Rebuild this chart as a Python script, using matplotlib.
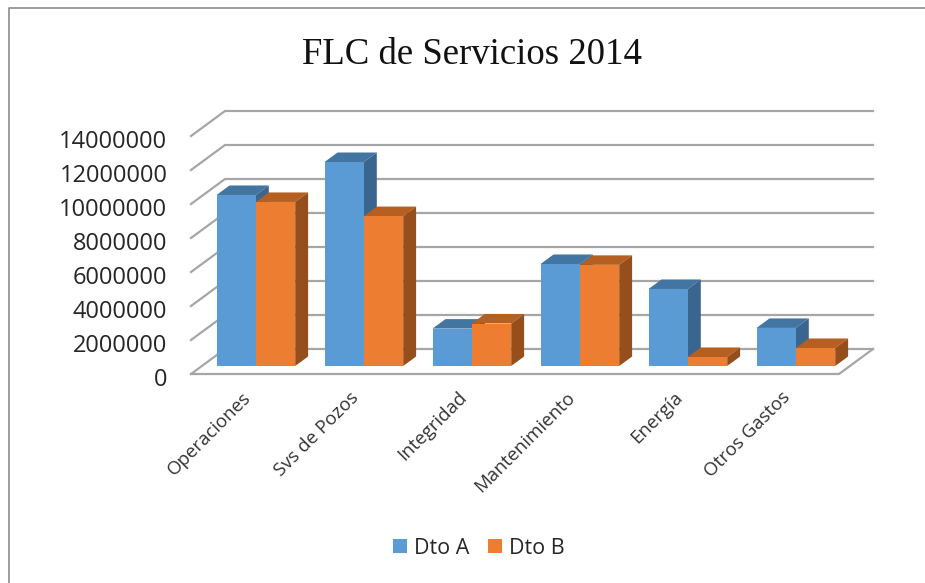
import matplotlib
matplotlib.use("Agg")
import matplotlib.pyplot as plt
from matplotlib.lines import Line2D
from matplotlib.patches import Patch, Polygon
from matplotlib.transforms import ScaledTranslation

categories = ["Operaciones", "Svs de Pozos", "Integridad", "Mantenimiento", "Energía", "Otros Gastos"]
dto_a = [10060000, 12000000, 2200000, 6000000, 4530000, 2240000]
dto_b = [9650000, 8820000, 2500000, 5950000, 530000, 1060000]
y_ticks = list(range(0, 14000001, 2000000))

W, H = 925, 583
# plano frontal del grafico, en pixeles
LEFT, RIGHT, BOTTOM, TOP = 191, 839, 374, 136

# profundidad del piso en unidades de datos (34 px a la derecha, 25 px arriba)
DX = 34 / 108
DY = 25 / 34 * 2000000
BAR_W = 0.364
BAR_Z0 = 0.32   # donde empieza la barra dentro del piso
BAR_DZ = 0.38   # profundidad de la barra

BLUE = ("#5b9bd5", "#4375a3", "#3a658f")
ORANGE = ("#ed7d31", "#b55f21", "#964f1b")
GRID = "#a6a6a6"

fig = plt.figure(figsize=(W / 100, H / 100), dpi=100)
ax = fig.add_axes([LEFT / W, 1 - BOTTOM / H, (RIGHT - LEFT) / W, (BOTTOM - TOP) / H])
ax.set_xlim(-0.5, 5.5)
ax.set_ylim(0, 14000000)
ax.patch.set_visible(False)
for s in ax.spines.values():
    s.set_visible(False)

# paredes
for v in y_ticks:
    ax.plot([-0.5, -0.5 + DX, 5.5 + DX], [v, v + DY, v + DY], color=GRID, lw=1.6,
            clip_on=False, zorder=1, solid_joinstyle="miter")
ax.plot([-0.5, 5.5, 5.5 + DX], [0, 0, DY], color=GRID, lw=1.6, clip_on=False, zorder=1)


def draw_bar(x, val, cols, z):
    x0 = x + BAR_Z0 * DX
    y0 = BAR_Z0 * DY
    x1 = x0 + BAR_W
    y1 = y0 + val
    dx = BAR_DZ * DX
    dy = BAR_DZ * DY
    ax.bar(x0, val, BAR_W, bottom=y0, align="edge", color=cols[0], zorder=z + 0.2, clip_on=False)
    ax.add_patch(Polygon([(x0, y1), (x1, y1), (x1 + dx, y1 + dy), (x0 + dx, y1 + dy)],
                         facecolor=cols[1], edgecolor="none", zorder=z, clip_on=False))
    ax.add_patch(Polygon([(x1, y0), (x1, y1), (x1 + dx, y1 + dy), (x1 + dx, y0 + dy)],
                         facecolor=cols[2], edgecolor="none", zorder=z + 0.1, clip_on=False))


for i in range(len(categories)):
    draw_bar(i - BAR_W, dto_a[i], BLUE, 2 + i)
    draw_bar(i, dto_b[i], ORANGE, 2.5 + i)

ax.set_xticks([])
ax.set_yticks(y_ticks)
ax.set_yticklabels([str(v) for v in y_ticks], family="Open Sans", fontsize=17, color="#262626")
ax.tick_params(axis="y", length=0, pad=17)
# las etiquetas van 3 px mas abajo que la linea
shift = ScaledTranslation(0, -3 / 100, fig.dpi_scale_trans)
for lab in ax.get_yticklabels():
    lab.set_transform(lab.get_transform() + shift)

for i, name in enumerate(categories):
    ax.annotate(name, (i, 0), xytext=(2, -15), textcoords="offset points", rotation=45,
                rotation_mode="anchor", ha="right", va="center", family="Open Sans",
                fontsize=13.4, color="#333333")

fig.text(472 / W, 1 - 55 / H, "FLC de Servicios 2014", family="Liberation Serif",
         fontsize=26.5, ha="center", va="center", color="#111111")

handles = [Patch(facecolor=BLUE[0], label="Dto A"), Patch(facecolor=ORANGE[0], label="Dto B")]
fig.legend(handles=handles, loc="center", bbox_to_anchor=(479 / W, 1 - 548 / H), ncol=2,
           frameon=False, handlelength=0.65, handleheight=0.65, handletextpad=0.33,
           columnspacing=0.84, prop={"family": "Open Sans", "size": 15.5}, labelcolor="#262626")

# marco de la captura, solo arriba e izquierda
fig.add_artist(Line2D([8.5 / W, 8.5 / W, 1], [0, 1 - 7.5 / H, 1 - 7.5 / H], color="#8c8c8c", lw=1.2))

fig.savefig("out.png", dpi=100)
